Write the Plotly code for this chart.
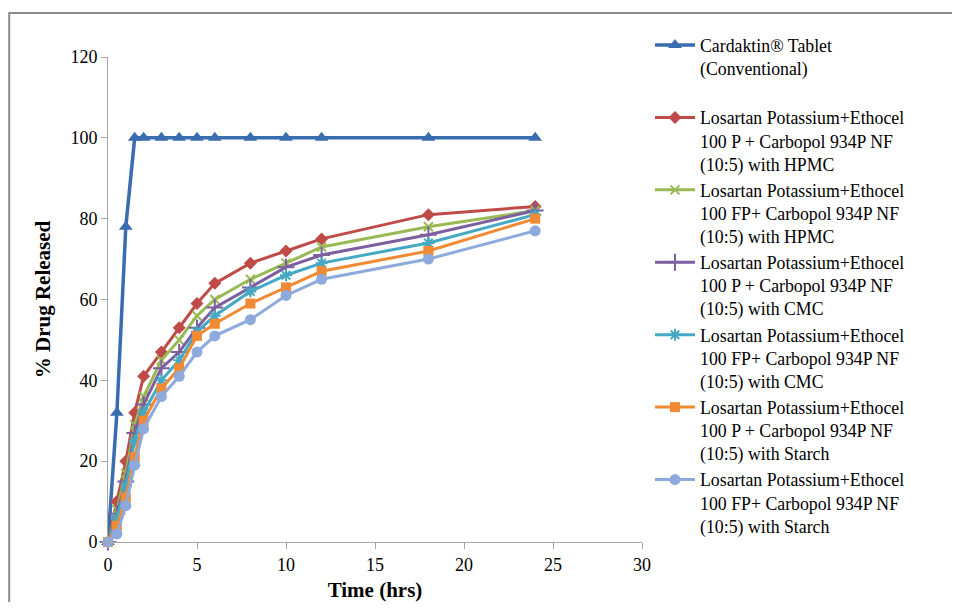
import plotly.graph_objects as go

# sampling times (hrs)
time_hrs = [0, 0.5, 1, 1.5, 2, 3, 4, 5, 6, 8, 10, 12, 18, 24]

cardaktin = [0, 32, 78, 100, 100, 100, 100, 100, 100, 100, 100, 100, 100, 100]
p_hpmc = [0, 10, 20, 32, 41, 47, 53, 59, 64, 69, 72, 75, 81, 83]
fp_hpmc = [0, 8, 17, 29, 36, 45, 50, 56, 60, 65, 69, 73, 78, 82]
p_cmc = [0, 7, 15, 27, 34, 43, 47, 53, 58, 63, 68, 71, 76, 82]
fp_cmc = [0, 6, 14, 25, 32, 40, 45, 52, 56, 62, 66, 69, 74, 81]
p_starch = [0, 4, 11, 21, 30, 38, 43, 51, 54, 59, 63, 67, 72, 80]
fp_starch = [0, 2, 9, 19, 28, 36, 41, 47, 51, 55, 61, 65, 70, 77]

series_names = [
    "Cardaktin® Tablet<br>(Conventional)<br> ",
    "Losartan Potassium+Ethocel<br>100 P + Carbopol 934P NF<br>(10:5) with HPMC",
    "Losartan Potassium+Ethocel<br>100 FP+ Carbopol 934P NF<br>(10:5) with HPMC",
    "Losartan Potassium+Ethocel<br>100 P + Carbopol 934P NF<br>(10:5) with CMC",
    "Losartan Potassium+Ethocel<br>100 FP+ Carbopol 934P NF<br>(10:5) with CMC",
    "Losartan Potassium+Ethocel<br>100 P + Carbopol 934P NF<br>(10:5) with Starch",
    "Losartan Potassium+Ethocel<br>100 FP+ Carbopol 934P NF<br>(10:5) with Starch",
]
series_values = [cardaktin, p_hpmc, fp_hpmc, p_cmc, fp_cmc, p_starch, fp_starch]

# (colour, marker symbol, marker size, line width)
styles = [
    ("#3A6DB0", "triangle-up", 12, 3.5),
    ("#BE4B48", "diamond", 10, 3),
    ("#98B954", "x-thin-open", 9, 3),
    ("#7D5FA0", "cross-thin-open", 12, 3),
    ("#46A9C4", "asterisk-open", 10, 3),
    ("#F08A35", "square", 10, 3),
    ("#8EA9DB", "circle", 11, 3),
]

FONT = "Liberation Serif, Times New Roman, serif"

fig = go.Figure()
for name, vals, (color, symbol, size, lw) in zip(series_names, series_values, styles):
    thin = symbol.endswith("-open")
    fig.add_trace(
        go.Scatter(
            x=time_hrs,
            y=vals,
            name=name,
            mode="lines+markers",
            line=dict(color=color, width=lw),
            marker=dict(
                symbol=symbol,
                size=size,
                color=color,
                line=dict(color=color, width=2 if thin else 0),
            ),
            cliponaxis=False,
        )
    )

# the page body adds an 8px margin all round, so keep the figure inside the window
fig.update_layout(
    width=944,
    height=594,
    margin=dict(l=100, r=310, t=49, b=60),
    paper_bgcolor="white",
    plot_bgcolor="white",
    font=dict(family=FONT, size=17.8, color="black"),
    showlegend=True,
    legend=dict(
        x=1.015,
        y=1.062,
        xanchor="left",
        yanchor="top",
        valign="top",
        itemwidth=40,
        tracegroupgap=0,
        maxheight=1,
        font=dict(family=FONT, size=17.8, color="black"),
        bgcolor="rgba(0,0,0,0)",
    ),
    shapes=[
        dict(
            type="rect",
            xref="paper",
            yref="paper",
            x0=-0.185,
            x1=1.7,
            y0=-0.3,
            y1=1.0907,
            line=dict(color="#8C8C8C", width=2),
            layer="below",
        )
    ],
)

axis_style = dict(
    showgrid=False,
    zeroline=False,
    showline=True,
    linecolor="#A6A6A6",
    linewidth=1,
    ticks="outside",
    ticklen=6,
    tickcolor="#A6A6A6",
    tickfont=dict(family=FONT, size=18),
    automargin=False,
)
fig.update_xaxes(
    range=[0, 30],
    dtick=5,
    title=dict(text="<b>Time (hrs)</b>", font=dict(family=FONT, size=21), standoff=10),
    **axis_style,
)
fig.update_yaxes(
    range=[0, 120],
    dtick=20,
    title=dict(text="<b>% Drug Released</b>", font=dict(family=FONT, size=21), standoff=14),
    **axis_style,
)

fig.write_html("out.html")
